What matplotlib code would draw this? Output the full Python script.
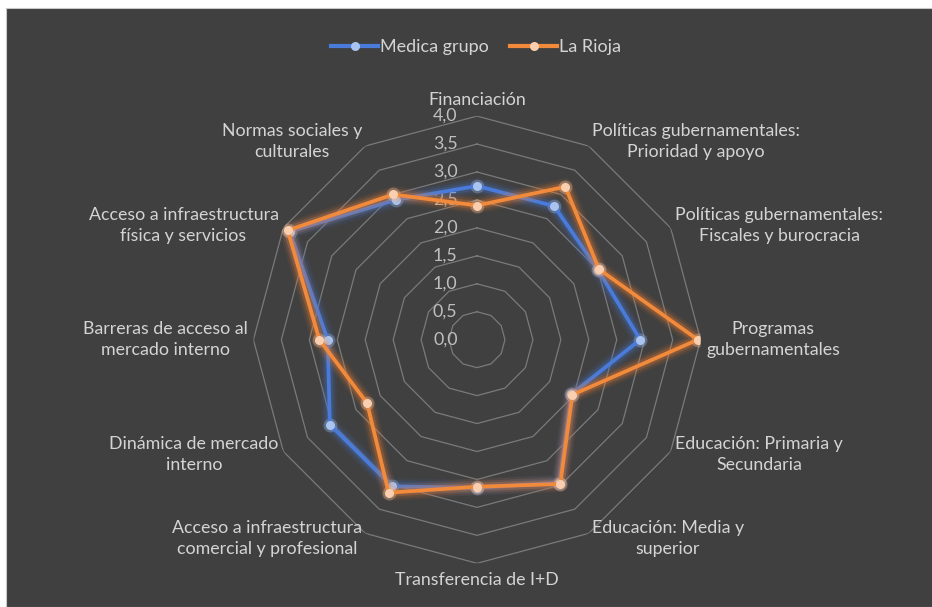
import numpy as np
import matplotlib.pyplot as plt
from matplotlib.patches import Rectangle

plt.rcParams['font.family'] = ['Lato', 'DejaVu Sans']

# Data
categories = [
    "Financiación",
    "Políticas gubernamentales:\nPrioridad y apoyo",
    "Políticas gubernamentales:\nFiscales y burocracia",
    "Programas\ngubernamentales",
    "Educación: Primaria y\nSecundaria",
    "Educación: Media y\nsuperior",
    "Transferencia de I+D",
    "Acceso a infraestructura\ncomercial y profesional",
    "Dinámica de mercado\ninterno",
    "Barreras de acceso al\nmercado interno",
    "Acceso a infraestructura\nfísica y servicios",
    "Normas sociales y\nculturales",
]
medica = [2.75, 2.76, 2.50, 2.92, 1.95, 2.95, 2.65, 3.03, 3.04, 2.67, 3.87, 2.89]
rioja = [2.40, 3.16, 2.52, 3.95, 1.97, 2.98, 2.63, 3.16, 2.27, 2.82, 3.91, 3.00]
ring_values = [0.5, 1.0, 1.5, 2.0, 2.5, 3.0, 3.5, 4.0]
tick_values = [0.0, 0.5, 1.0, 1.5, 2.0, 2.5, 3.0, 3.5, 4.0]
tick_labels = ["0,0", "0,5", "1,0", "1,5", "2,0", "2,5", "3,0", "3,5", "4,0"]

bg = "#404040"
text_col = "#D4D4D4"
tick_col = "#BFBFBF"
grid_col = "#7A7A7A"

W, H = 932, 607
fig = plt.figure(figsize=(W / 100, H / 100), dpi=100, facecolor="white")
# dark chart area (white strip on top and left like the screenshot)
fig.add_artist(Rectangle((6 / W, 0), 1, 1 - 8 / H, transform=fig.transFigure,
                         facecolor=bg, edgecolor="#C8C8C8", lw=0.8, zorder=-10))

cx, cy, R = 477, 339.7, 223.6
ax = fig.add_axes([(cx - R) / W, (H - cy - R) / H, 2 * R / W, 2 * R / H], projection="polar")
ax.set_facecolor("none")
ax.set_theta_offset(np.pi / 2)
ax.set_theta_direction(-1)
ax.set_ylim(0, 4)
ax.grid(False)
ax.spines["polar"].set_visible(False)
ax.set_xticks([])
ax.set_yticks([])

n = len(categories)
angles = np.linspace(0, 2 * np.pi, n, endpoint=False)
closed = np.append(angles, angles[0])

# polygon rings
for r in ring_values:
    ax.plot(closed, [r] * (n + 1), color=grid_col, lw=0.9, zorder=1)

# radial value labels left of the top spoke
for v, lab in zip(tick_values, tick_labels):
    ax.annotate(lab, xy=(0, v), xytext=(-14, 0), textcoords="offset points",
                ha="right", va="center", color=tick_col, fontsize=12.8, zorder=2)


def draw_series(vals, line_col, glow_col, marker_col, z):
    v = np.append(vals, vals[0])
    for lw, a in [(12, 0.08), (9, 0.13), (6, 0.25)]:
        ax.plot(closed, v, color=glow_col, lw=lw, alpha=a, solid_joinstyle="round",
                solid_capstyle="round", zorder=z)
    ax.plot(closed[:-1], vals, "o", color=marker_col, ms=10, alpha=0.3, mec="none", zorder=z)
    ax.plot(closed, v, color=line_col, lw=2.7, solid_joinstyle="miter", zorder=z + 0.1)
    ax.plot(closed[:-1], vals, "o", color=marker_col, ms=6.5, mec="none", zorder=z + 0.2)


draw_series(medica, "#4A7BDA", "#4472C4", "#A9C4F0", 3)
draw_series(rioja, "#F28A3C", "#ED7D31", "#F9CFB0", 4)

# category labels
for a, lab in zip(angles, categories):
    s = np.sin(a)
    c = np.cos(a)
    if abs(s) < 0.01:
        ha = "center"
        va = "bottom" if c > 0 else "top"
        r = 4.15
    else:
        ha = "left" if s > 0 else "right"
        va = "center"
        r = 4.1
    ax.text(a, r, lab, ha=ha, va=va, multialignment="center", color=text_col,
            fontsize=12.8, linespacing=1.4)

# legend
h1, = ax.plot([], [], color="#4A7BDA", lw=3, marker="o", ms=6.5, mfc="#A9C4F0", mec="none")
h2, = ax.plot([], [], color="#F28A3C", lw=3, marker="o", ms=6.5, mfc="#F9CFB0", mec="none")
fig.legend([h1, h2], ["Medica grupo", "La Rioja"], loc="center", bbox_to_anchor=(0.511, 1 - 47 / H),
           ncol=2, frameon=False, fontsize=13, labelcolor=text_col, handlelength=2.6,
           handletextpad=0.1, columnspacing=1.2)

fig.savefig("out.png", dpi=100, facecolor="white")
